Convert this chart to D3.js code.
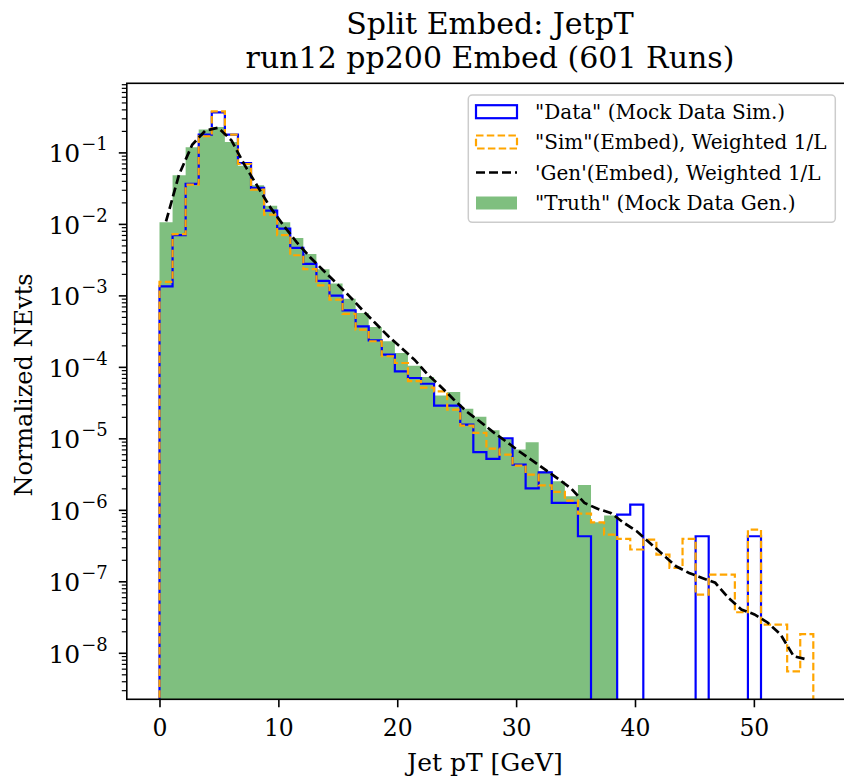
<!DOCTYPE html>
<html>
<head>
<meta charset="utf-8">
<script src="https://cdn.jsdelivr.net/npm/d3@7"></script>
<style>
  html, body { margin: 0; padding: 0; background: #fff; }
  svg { display: block; }
  text { font-family: "DejaVu Serif", serif; fill: #000; }
</style>
</head>
<body>
<svg id="chart" width="844" height="779"></svg>
<script>
// ---- data ----
const binLo = 0, binHi = 55, nBins = 50;
const xTicks = [0, 10, 20, 30, 40, 50];
const yMajorExps = [-8, -7, -6, -5, -4, -3, -2, -1];

// "Truth" (Mock Data Gen.)  - green filled
const truthVals = [1.07e-2, 4.87e-2, 0.120, 0.212, 0.231, 0.1425, 0.066, 0.0352, 0.0183, 0.0107,
  6.47e-3, 3.86e-3, 2.36e-3, 1.49e-3, 9.1e-4, 5.78e-4, 3.68e-4, 2.32e-4, 1.59e-4, 1.05e-4,
  7.36e-5, 4.03e-5, 4.54e-5, 2.63e-5, 2.03e-5, 1.32e-5, 1.02e-5, 7.1e-6, 8.95e-6, 3.52e-6,
  2.55e-6, 1.57e-6, 2.27e-6, 6.8e-7, 8.5e-7, 0, 0, 0, 0, 0,
  0, 0, 0, 0, 0, 0, 0, 0, 0, 0];
// "Data" (Mock Data Sim.)  - blue step
const dataVals = [1.36e-3, 7.1e-3, 3.68e-2, 0.180, 0.370, 0.180, 0.072, 0.0324, 0.0156, 8.7e-3,
  4.69e-3, 2.8e-3, 1.62e-3, 1.01e-3, 6.25e-4, 3.75e-4, 2.39e-4, 1.51e-4, 8.8e-5, 7.1e-5,
  5.9e-5, 2.92e-5, 2.92e-5, 1.58e-5, 6.5e-6, 5.25e-6, 1.02e-5, 4.37e-6, 2.03e-6, 3.4e-6,
  1.27e-6, 1.27e-6, 4.34e-7, 0, 0, 8.7e-7, 1.2e-6, 0, 0, 0,
  0, 4.34e-7, 0, 0, 0, 4.34e-7, 0, 0, 0, 0];
// "Sim"(Embed), Weighted 1/L - orange dashed step
const simVals = [1.57e-3, 7.3e-3, 3.6e-2, 0.171, 0.382, 0.180, 0.070, 0.0307, 0.0137, 7.1e-3,
  3.7e-3, 2.37e-3, 1.40e-3, 8.85e-4, 5.6e-4, 3.37e-4, 2.32e-4, 1.43e-4, 1.15e-4, 6.4e-5,
  5.2e-5, 4.6e-5, 2.57e-5, 1.53e-5, 1.21e-5, 7.3e-6, 6.03e-6, 4.23e-6, 3.16e-6, 2.24e-6,
  1.81e-6, 1.37e-6, 9.0e-7, 6.8e-7, 4.58e-7, 3.99e-7, 2.83e-7, 3.9e-7, 2.4e-7, 1.57e-7,
  3.99e-7, 6.6e-8, 1.26e-7, 1.26e-7, 3.75e-8, 5.38e-7, 2.52e-8, 2.52e-8, 5.6e-9, 1.85e-8];
// 'Gen'(Embed), Weighted 1/L - black dashed line at bin centres
const genVals = [1.1e-2, 0.05, 0.13, 0.205, 0.225, 0.15, 0.068, 0.034, 0.017, 9.6e-3,
  5.6e-3, 3.5e-3, 2.3e-3, 1.52e-3, 1.0e-3, 6.4e-4, 4.17e-4, 2.72e-4, 1.87e-4, 1.28e-4,
  8.0e-5, 5.4e-5, 3.56e-5, 2.4e-5, 1.75e-5, 1.25e-5, 9.2e-6, 6.7e-6, 5.0e-6, 3.7e-6,
  2.75e-6, 2.0e-6, 1.27e-6, 1.05e-6, 9.2e-7, 6.7e-7, 5.1e-7, 3.5e-7, 2.4e-7, 1.65e-7,
  1.33e-7, 1.13e-7, 9.7e-8, 6.0e-8, 4.1e-8, 3.5e-8, 2.7e-8, 1.83e-8, 9.1e-9, 8.2e-9];

const legendLabels = ['"Data" (Mock Data Sim.)', '"Sim"(Embed), Weighted 1/L',
  "'Gen'(Embed), Weighted 1/L", '"Truth" (Mock Data Gen.)'];
const titleLines = ["Split Embed: JetpT", "run12 pp200 Embed (601 Runs)"];
const xLabel = "Jet pT [GeV]";
const yLabel = "Normalized NEvts";

// ---- layout ----
const axL = 126.8, axR = 846, axT = 83.3, axB = 699.3;
const svg = d3.select("#chart");

const bw = (binHi - binLo) / nBins;
const edges = d3.range(nBins + 1).map(i => binLo + i * bw);
const centers = d3.range(nBins).map(i => binLo + (i + 0.5) * bw);

const xPad = (binHi - binLo) * 0.05;
const x = d3.scaleLinear().domain([binLo - xPad, binHi + xPad]).range([axL, axR]);

const allPos = [].concat(truthVals, dataVals, simVals, genVals).filter(v => v > 0);
const lmin = Math.log10(d3.min(allPos)), lmax = Math.log10(d3.max(allPos));
const lpad = (lmax - lmin) * 0.05;
const y = d3.scaleLog().domain([Math.pow(10, lmin - lpad), Math.pow(10, lmax + lpad)]).range([axB, axT]);

svg.append("defs").append("clipPath").attr("id", "clip")
  .append("rect").attr("x", axL).attr("y", axT).attr("width", axR - axL).attr("height", axB - axT);

const plot = svg.append("g").attr("clip-path", "url(#clip)");
const yBottom = axB + 20;
const yv = v => v > 0 ? y(v) : yBottom;

function stepPoints(vals) {
  const pts = [[x(edges[0]), yBottom]];
  vals.forEach((v, i) => {
    pts.push([x(edges[i]), yv(v)]);
    pts.push([x(edges[i + 1]), yv(v)]);
  });
  pts.push([x(edges[nBins]), yBottom]);
  return pts;
}
const line = d3.line();

// green filled truth
plot.append("path").attr("d", line(stepPoints(truthVals)) + "Z")
  .attr("fill", "#008000").attr("fill-opacity", 0.5).attr("stroke", "none");
// blue step
plot.append("path").attr("d", line(stepPoints(dataVals)))
  .attr("fill", "none").attr("stroke", "#0000ff").attr("stroke-width", 2.2)
  .attr("stroke-linejoin", "miter");
// orange dashed step
plot.append("path").attr("d", line(stepPoints(simVals)))
  .attr("fill", "none").attr("stroke", "#ffa500").attr("stroke-width", 2.2)
  .attr("stroke-dasharray", "7.5,3.3");
// black dashed gen line
plot.append("path").attr("d", d3.line().x((d, i) => x(centers[i])).y(d => y(d))(genVals))
  .attr("fill", "none").attr("stroke", "#000").attr("stroke-width", 2.7)
  .attr("stroke-dasharray", "9,4");

// ---- axes ----
const xAxis = d3.axisBottom(x).tickValues(xTicks).tickSize(8).tickPadding(6).tickFormat(d3.format("d"));
const gx = svg.append("g").attr("transform", `translate(0,${axB})`).call(xAxis);
gx.select(".domain").remove();
gx.selectAll(".tick line").attr("stroke", "#000").attr("stroke-width", 1.6);
gx.selectAll(".tick text").attr("font-size", 23.5).attr("font-family", "DejaVu Serif").attr("dy", "0.95em");

// y ticks: majors + minors
const [d0, d1] = y.domain();
const minor = [];
for (let e = Math.floor(Math.log10(d0)); e <= Math.ceil(Math.log10(d1)); e++) {
  for (let m = 2; m <= 9; m++) {
    const v = m * Math.pow(10, e);
    if (v >= d0 && v <= d1) minor.push(v);
  }
}
const gy = svg.append("g");
gy.selectAll("line.minor").data(minor).enter().append("line")
  .attr("x1", axL - 5).attr("x2", axL).attr("y1", d => y(d)).attr("y2", d => y(d))
  .attr("stroke", "#000").attr("stroke-width", 1.2);
gy.selectAll("line.major").data(yMajorExps).enter().append("line")
  .attr("x1", axL - 8).attr("x2", axL).attr("y1", d => y(Math.pow(10, d))).attr("y2", d => y(Math.pow(10, d)))
  .attr("stroke", "#000").attr("stroke-width", 1.6);
const yl = gy.selectAll("text.ylab").data(yMajorExps).enter().append("text")
  .attr("x", axL - 19).attr("y", d => y(Math.pow(10, d)) + 9.5)
  .attr("text-anchor", "end").attr("font-size", 25);
yl.append("tspan").text("10");
yl.append("tspan").attr("font-size", 18).attr("dx", 1).attr("dy", -12).text(d => "\u2212" + Math.abs(d));

// frame
svg.append("rect").attr("x", axL).attr("y", axT).attr("width", axR - axL).attr("height", axB - axT)
  .attr("fill", "none").attr("stroke", "#000").attr("stroke-width", 1.6);

// labels
svg.append("text").attr("x", 485).attr("y", 771).attr("text-anchor", "middle")
  .attr("font-size", 25).text(xLabel);
svg.append("text").attr("transform", `translate(32,385) rotate(-90)`)
  .attr("text-anchor", "middle").attr("font-size", 24).text(yLabel);

// title
svg.selectAll("text.title").data(titleLines).enter().append("text")
  .attr("x", 490).attr("y", (d, i) => 34 + i * 34)
  .attr("text-anchor", "middle").attr("font-size", 30).text(d => d);

// ---- legend ----
const lg = svg.append("g");
lg.append("rect").attr("x", 468.3).attr("y", 95).attr("width", 367).attr("height", 127.3)
  .attr("rx", 4).attr("fill", "#fff").attr("fill-opacity", 0.8)
  .attr("stroke", "#cccccc").attr("stroke-width", 1.5);
const rowY = [111.7, 142, 172.5, 203];
const hx = 476, hw = 41, hh = 13;
lg.append("rect").attr("x", hx).attr("y", rowY[0] - hh / 2).attr("width", hw).attr("height", hh)
  .attr("fill", "none").attr("stroke", "#0000ff").attr("stroke-width", 2.2);
lg.append("rect").attr("x", hx).attr("y", rowY[1] - hh / 2).attr("width", hw).attr("height", hh)
  .attr("fill", "none").attr("stroke", "#ffa500").attr("stroke-width", 2.2).attr("stroke-dasharray", "7.5,3.3");
lg.append("line").attr("x1", hx).attr("x2", hx + hw).attr("y1", rowY[2]).attr("y2", rowY[2])
  .attr("stroke", "#000").attr("stroke-width", 2.7).attr("stroke-dasharray", "9,4");
lg.append("rect").attr("x", hx).attr("y", rowY[3] - hh / 2).attr("width", hw).attr("height", hh)
  .attr("fill", "#008000").attr("fill-opacity", 0.5);
lg.selectAll("text.leg").data(legendLabels).enter().append("text")
  .attr("x", 535).attr("y", (d, i) => rowY[i] + 7).attr("font-size", 20).text(d => d);
</script>
</body>
</html>
